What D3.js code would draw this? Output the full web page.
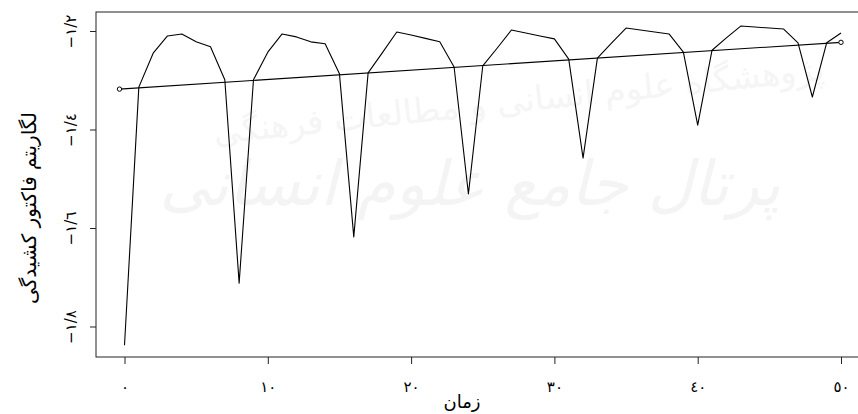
<!DOCTYPE html>
<html>
<head>
<meta charset="utf-8">
<script src="https://cdn.jsdelivr.net/npm/d3@7"></script>
<style>
  body { margin: 0; background: #fff; }
  text { font-family: "DejaVu Sans", "Noto Sans", sans-serif; fill: #000; }
</style>
</head>
<body>
<div id="chart"></div>
<script>
// time index 0..50 and log of the stretch factor
const times = d3.range(0, 51);
const logValues = [
  -1.838, -1.314, -1.245, -1.210, -1.206, -1.222, -1.232, -1.299, -1.712, -1.299,
  -1.243, -1.206, -1.212, -1.222, -1.226, -1.287, -1.618, -1.285, -1.244, -1.202,
  -1.208, -1.215, -1.222, -1.273, -1.531, -1.271, -1.235, -1.198, -1.204, -1.210,
  -1.216, -1.257, -1.458, -1.255, -1.224, -1.194, -1.198, -1.202, -1.206, -1.243,
  -1.391, -1.239, -1.214, -1.190, -1.192, -1.194, -1.196, -1.224, -1.334, -1.224,
  -1.204
];
// fitted trend line, two end points
const trendX = [-0.35, 50];
const trendY = [-1.318, -1.223];

const xTicks = [0, 10, 20, 30, 40, 50];
const xTickLabels = ['٠', '١٠', '٢٠', '٣٠', '٤٠', '٥٠'];
const yTicks = [-1.2, -1.4, -1.6, -1.8];
const yTickLabels = ['−١/٢', '−١/٤', '−١/٦', '−١/٨'];

const xTitle = 'زمان';
const yTitle = 'لگاریتم فاکتور کشیدگی';

const series = times.map((t, i) => ({ t, v: logValues[i] }));
const trend = trendX.map((t, i) => ({ t, v: trendY[i] }));

let dimensions = {
  width: 858,
  height: 414,
  box: { left: 96, top: 12, right: 872, bottom: 357 },
};

const svg = d3
  .select('#chart')
  .append('svg')
  .attr('width', dimensions.width)
  .attr('height', dimensions.height);

// faint watermark in the background
const wm = svg.append('g');
wm.append('text')
  .attr('x', 470)
  .attr('y', 205)
  .attr('text-anchor', 'middle')
  .style('font-size', '62px')
  .style('fill', '#f4f4f4')
  .style('font-style', 'italic')
  .text('پرتال جامع علوم انسانی');
wm.append('text')
  .attr('x', 520)
  .attr('y', 112)
  .attr('text-anchor', 'middle')
  .attr('transform', 'rotate(-6, 520, 112)')
  .style('font-size', '34px')
  .style('fill', '#f5f5f5')
  .text('پژوهشگاه علوم انسانی و مطالعات فرهنگی');

// scales
const xScale = d3.scaleLinear().domain([0, 50]).range([124.5, 841]);
const yScale = d3.scaleLinear().domain([-1.8, -1.2]).range([326.5, 31]);

// plot box
svg
  .append('rect')
  .attr('x', dimensions.box.left)
  .attr('y', dimensions.box.top)
  .attr('width', dimensions.box.right - dimensions.box.left)
  .attr('height', dimensions.box.bottom - dimensions.box.top)
  .attr('fill', 'none')
  .attr('stroke', '#222')
  .attr('stroke-width', 1);

// axes
const xAxis = d3.axisBottom(xScale).tickValues(xTicks).tickSize(7).tickFormat((d, i) => xTickLabels[i]);
const xAxisGroup = svg
  .append('g')
  .attr('transform', `translate(0, ${dimensions.box.bottom})`)
  .call(xAxis);
xAxisGroup.select('.domain').remove();
xAxisGroup.selectAll('line').attr('stroke', '#222');
xAxisGroup
  .selectAll('text')
  .attr('y', 30)
  .attr('dy', '0.35em')
  .style('font-size', '15px')
  .style('font-weight', 'normal')
  .style('direction', 'ltr')
  .style('unicode-bidi', 'bidi-override');

const yAxis = d3.axisLeft(yScale).tickValues(yTicks).tickSize(6).tickFormat((d, i) => yTickLabels[i]);
const yAxisGroup = svg
  .append('g')
  .attr('transform', `translate(${dimensions.box.left}, 0)`)
  .call(yAxis);
yAxisGroup.select('.domain').remove();
yAxisGroup.selectAll('line').attr('stroke', '#222');
yAxisGroup
  .selectAll('text')
  .attr('x', 0)
  .attr('dy', 0)
  .attr('text-anchor', 'middle')
  .attr('transform', 'translate(-20, 0) rotate(-90)')
  .style('font-size', '15px')
  .style('direction', 'ltr')
  .style('unicode-bidi', 'bidi-override');

// titles
svg
  .append('text')
  .attr('x', 462)
  .attr('y', 408)
  .attr('text-anchor', 'middle')
  .style('font-size', '18px')
  .text(xTitle);

svg
  .append('text')
  .attr('transform', 'translate(36, 208) rotate(-90)')
  .attr('text-anchor', 'middle')
  .style('font-size', '20px')
  .style('direction', 'rtl')
  .text(yTitle);

// series line
const line = d3
  .line()
  .x((d) => xScale(d.t))
  .y((d) => yScale(d.v));

svg
  .append('path')
  .datum(series)
  .attr('d', line)
  .attr('fill', 'none')
  .attr('stroke', '#000')
  .attr('stroke-width', 1.1)
  .attr('stroke-linejoin', 'round');

// trend line with end markers
svg
  .append('path')
  .datum(trend)
  .attr('d', line)
  .attr('fill', 'none')
  .attr('stroke', '#000')
  .attr('stroke-width', 1.1);

svg
  .selectAll('circle.trend')
  .data(trend)
  .join('circle')
  .attr('class', 'trend')
  .attr('cx', (d) => xScale(d.t))
  .attr('cy', (d) => yScale(d.v))
  .attr('r', 2.2)
  .attr('fill', '#fff')
  .attr('stroke', '#000')
  .attr('stroke-width', 1);
</script>
</body>
</html>
